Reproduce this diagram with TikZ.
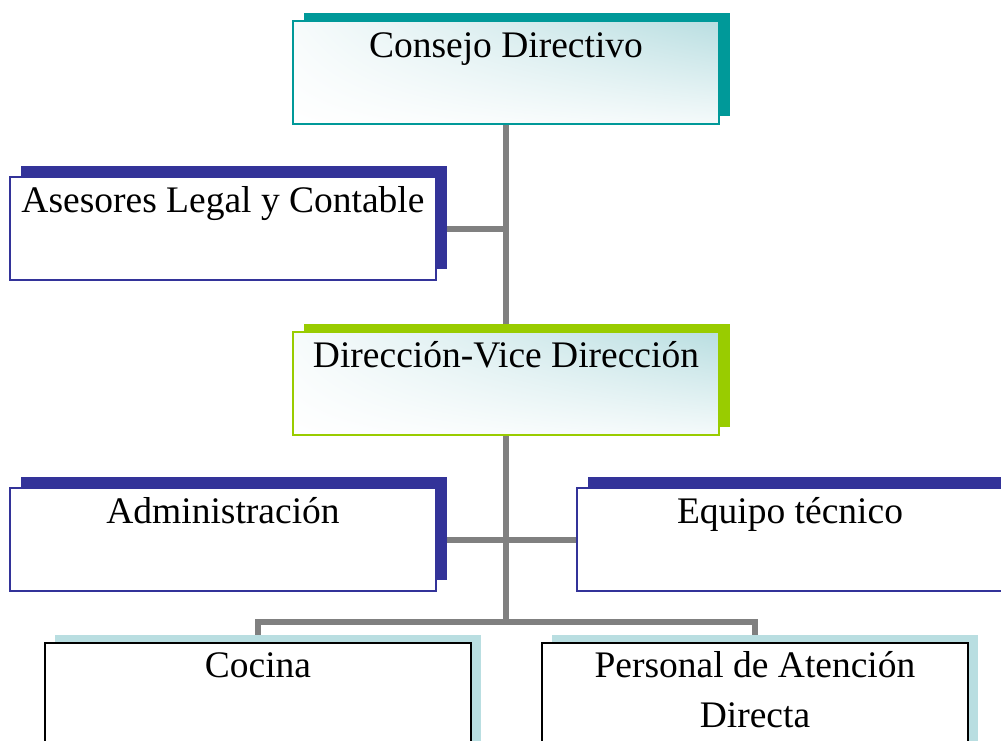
\documentclass[tikz,border=0pt]{standalone}
\usepackage{fontspec}
\setmainfont{Liberation Serif}
\usetikzlibrary{calc,shadings}
\definecolor{tealc}{HTML}{009999}
\definecolor{navyc}{HTML}{333399}
\definecolor{limec}{HTML}{99CC00}
\definecolor{icec}{HTML}{B9DEE1}
\definecolor{linec}{HTML}{808080}
\pgfdeclarelayer{lines}
\pgfdeclarelayer{shadows}
\pgfsetlayers{lines,shadows,main}
\begin{document}
\begin{tikzpicture}[x=1pt,y=-1pt,
  box/.style={draw, line width=1.5pt, fill=white, minimum width=426pt, minimum height=103pt,
    anchor=north west, inner sep=0pt, outer sep=0pt},
  tinted/.style={shade, upper right=icec, upper left=icec!12, lower left=white, lower right=icec!15},
  caption/.style={anchor=base, align=center, font=\fontsize{37.5}{50}\selectfont},
  conn/.style={draw=linec, line width=6pt, line join=miter}]
\useasboundingbox (0,0) rectangle (1001,740);
\clip (0,0) rectangle (1001,740);

% boxes
\node[box, tinted, draw=tealc] (cd) at (293,21) {};
\node[box, draw=navyc] (as) at (10,177) {};
\node[box, tinted, draw=limec] (dv) at (293,332) {};
\node[box, draw=navyc] (ad) at (10,488) {};
\node[box, draw=navyc] (eq) at (577,488) {};
\node[box, draw=black, minimum height=120pt, line width=2pt] (co) at (45,643) {};
\node[box, draw=black, minimum height=120pt, line width=2pt] (pa) at (542,643) {};

% box titles (anchor=base sits on the last line)
\node[caption] (cdt) at ($(cd.north)+(0,36)$) {Consejo Directivo};
\node[caption] (ast) at ($(as.north)+(0,35)$) {Asesores Legal y Contable};
\node[caption] (dvt) at ($(dv.north)+(0,35)$) {Dirección-Vice Dirección};
\node[caption] (adt) at ($(ad.north)+(0,35)$) {Administración};
\node[caption] (eqt) at ($(eq.north)+(0,35)$) {Equipo técnico};
\node[caption] (cot) at ($(co.north)+(0,34)$) {Cocina};
\node[caption] (pat) at ($(pa.north)+(0,84)$) {Personal de Atención\\Directa};

% offset shadows behind the boxes
\begin{pgfonlayer}{shadows}
  \foreach \n/\c/\dx/\dy in {cd/tealc/11/-8, as/navyc/11/-11, dv/limec/11/-8,
                               ad/navyc/11/-11, eq/navyc/11/-11, co/icec/10/-8, pa/icec/10/-8}
    \fill[\c] ($(\n.north west)+(\dx,\dy)$) rectangle ($(\n.south east)+(\dx,\dy)$);
\end{pgfonlayer}

% connectors
\begin{pgfonlayer}{lines}
  \coordinate (bus) at ($(dv.south)+(0,187)$);
  \draw[conn] (cd.south) -- (dv.north);
  \draw[conn] (as.east) -- (as.east -| cd.south);
  \draw[conn] (dv.south) -- (bus);
  \draw[conn] (ad.east) -- (eq.west);
  \draw[conn] (co.north) |- (bus) -| (pa.north);
\end{pgfonlayer}
\end{tikzpicture}
\end{document}
